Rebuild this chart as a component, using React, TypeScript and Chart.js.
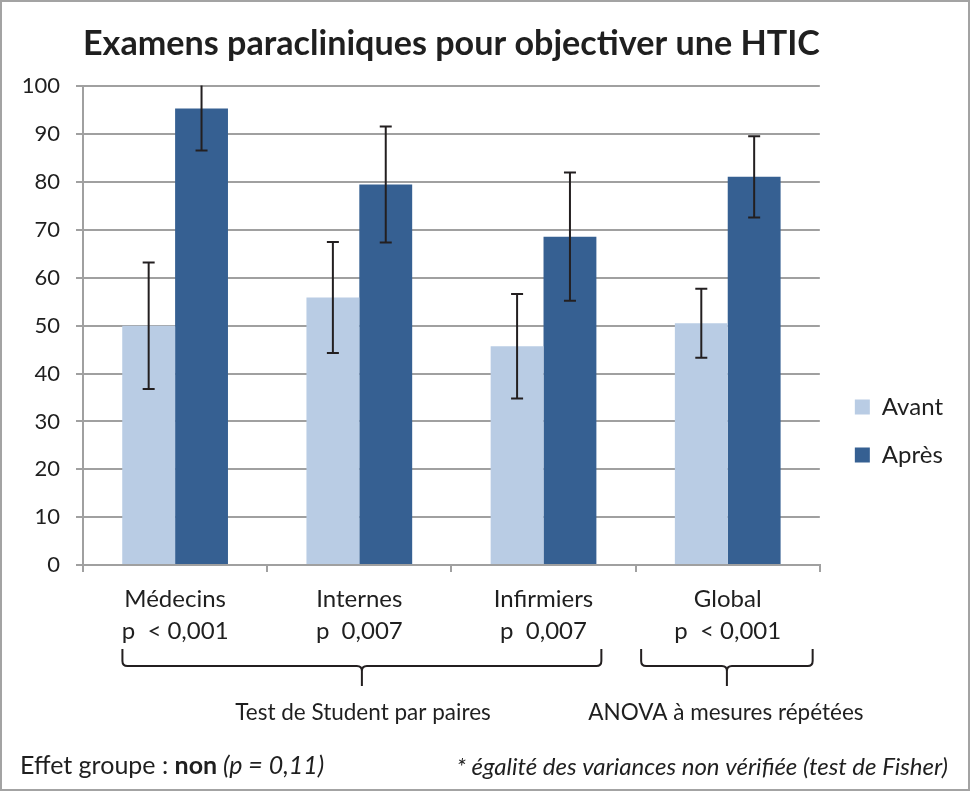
import React, { useEffect, useRef } from 'react';
import { Chart, registerables } from 'chart.js';

Chart.register(...registerables);

const FONT = 'Lato, "Open Sans", "DejaVu Sans", sans-serif';
const TEXT = '#1f1f1f';
const GRID = '#a0a0a0';

// ---- data ----
const title = 'Examens paracliniques pour objectiver une HTIC';
const categories = ['Médecins', 'Internes', 'Infirmiers', 'Global'];
const pValues = ['p  < 0,001', 'p  0,007', 'p  0,007', 'p  < 0,001'];
const seriesNames = ['Avant', 'Après'];
const avantValues = [50.0, 55.9, 45.7, 50.5];
const apresValues = [95.4, 79.5, 68.6, 81.1];
const avantErrors = [13.2, 11.6, 10.9, 7.2];
const apresErrors = [8.8, 12.1, 13.4, 8.5];
const yMin = 0;
const yMax = 100;
const yStep = 10;
const groupLabels = ['Test de Student par paires', 'ANOVA à mesures répétées'];
const groupStart = [-0.286, 2.53];
const groupEnd = [2.314, 3.461];
const groupLabelAt = [1.02, 2.99];
const footLeft = ['Effet groupe : ', 'non', ' (p = 0,11)'];
const footRight = '* égalité des variances non vérifiée (test de Fisher)';

const errorSets = [avantErrors, apresErrors];

const decorations = {
  id: 'decorations',
  beforeDraw(chart: any) {
    const { ctx, width, height } = chart;
    ctx.save();
    ctx.fillStyle = '#ffffff';
    ctx.fillRect(0, 0, width, height);
    ctx.restore();
  },
  afterLayout(chart: any) {
    const lg = chart.legend;
    if (lg) {
      lg.left += 11;
      lg.right += 11;
      lg.top += 71;
    }
  },
  afterDatasetsDraw(chart: any) {
    const { ctx, chartArea } = chart;
    const y = chart.scales.y;
    ctx.save();
    ctx.beginPath();
    ctx.rect(chartArea.left, chartArea.top - 1, chartArea.right - chartArea.left, chartArea.bottom - chartArea.top + 1);
    ctx.clip();
    ctx.strokeStyle = '#231f20';
    ctx.lineWidth = 2;
    chart.data.datasets.forEach((ds: any, i: number) => {
      const meta = chart.getDatasetMeta(i);
      meta.data.forEach((bar: any, j: number) => {
        const v = ds.data[j];
        const e = errorSets[i][j];
        const yHi = y.getPixelForValue(v + e);
        const yLo = y.getPixelForValue(v - e);
        const x = bar.x;
        ctx.beginPath();
        ctx.moveTo(x, yHi);
        ctx.lineTo(x, yLo);
        ctx.moveTo(x - 6, yHi);
        ctx.lineTo(x + 6, yHi);
        ctx.moveTo(x - 6, yLo);
        ctx.lineTo(x + 6, yLo);
        ctx.stroke();
      });
    });
    ctx.restore();
  },
  afterDraw(chart: any) {
    const { ctx, chartArea, width, height } = chart;
    const xs = chart.scales.x;
    const p0 = xs.getPixelForValue(0);
    const w = xs.getPixelForValue(1) - p0;
    const toPx = (idx: number) => p0 + idx * w;
    const base = chartArea.bottom;
    const yTop = base + 84;
    const yMid = base + 101;
    const yTip = base + 121;
    const r = 5;
    ctx.save();
    ctx.strokeStyle = '#231f20';
    ctx.lineWidth = 2;
    groupLabels.forEach((lbl, k) => {
      const x1 = toPx(groupStart[k]);
      const x2 = toPx(groupEnd[k]);
      const xc = (x1 + x2) / 2;
      ctx.beginPath();
      ctx.moveTo(x1, yTop);
      ctx.lineTo(x1, yMid - r);
      ctx.quadraticCurveTo(x1, yMid, x1 + r, yMid);
      ctx.lineTo(xc - r, yMid);
      ctx.quadraticCurveTo(xc, yMid, xc, yMid + r);
      ctx.lineTo(xc, yTip);
      ctx.moveTo(x2, yTop);
      ctx.lineTo(x2, yMid - r);
      ctx.quadraticCurveTo(x2, yMid, x2 - r, yMid);
      ctx.lineTo(xc + r, yMid);
      ctx.quadraticCurveTo(xc, yMid, xc, yMid + r);
      ctx.stroke();
      ctx.fillStyle = TEXT;
      ctx.font = `22.5px ${FONT}`;
      ctx.textAlign = 'center';
      ctx.textBaseline = 'middle';
      ctx.fillText(lbl, toPx(groupLabelAt[k]), base + 148);
    });

    // footnotes
    const fy = height - 25;
    ctx.fillStyle = TEXT;
    ctx.textBaseline = 'middle';
    ctx.textAlign = 'left';
    let fx = 20;
    const styles = [`25px ${FONT}`, `bold 25px ${FONT}`, `italic 25px ${FONT}`];
    footLeft.forEach((seg, k) => {
      ctx.font = styles[k];
      ctx.fillText(seg, fx, fy);
      fx += ctx.measureText(seg).width;
    });
    ctx.font = `italic 24px ${FONT}`;
    ctx.textAlign = 'right';
    ctx.fillText(footRight, width - 22, fy + 1);

    // frame
    ctx.strokeStyle = '#a3a3a3';
    ctx.lineWidth = 2;
    ctx.strokeRect(1, 1, width - 2, height - 2);
    ctx.restore();
  },
};

export default function App() {
  const ref = useRef<HTMLCanvasElement>(null);

  useEffect(() => {
    document.body.style.margin = '0';
    const canvas = ref.current;
    if (!canvas) return;
    const chart = new Chart(canvas, {
      type: 'bar',
      data: {
        labels: categories.map((c, i) => [c, pValues[i]]),
        datasets: [
          {
            label: seriesNames[0],
            data: avantValues,
            backgroundColor: '#b9cce4',
            categoryPercentage: 0.574,
            barPercentage: 1,
          },
          {
            label: seriesNames[1],
            data: apresValues,
            backgroundColor: '#366092',
            categoryPercentage: 0.574,
            barPercentage: 1,
          },
        ],
      },
      options: {
        responsive: false,
        animation: false,
        layout: { padding: { left: 0, right: 28, top: 0, bottom: 0 } },
        plugins: {
          title: {
            display: true,
            text: title,
            fullSize: false,
            color: TEXT,
            font: { family: FONT, size: 34.5, weight: 'bold' },
            padding: { top: 23, bottom: 22 },
          },
          legend: {
            position: 'right',
            maxWidth: 140,
            labels: {
              boxWidth: 15,
              boxHeight: 15,
              padding: 24,
              color: TEXT,
              font: { family: FONT, size: 24 },
            },
          },
          tooltip: { enabled: false },
        },
        scales: {
          x: {
            grid: { offset: true, drawOnChartArea: false, drawTicks: true, tickLength: 7, color: GRID, lineWidth: 2 },
            border: { color: GRID, width: 2 },
            ticks: {
              color: TEXT,
              font: { family: FONT, size: 24, lineHeight: 32 / 24 },
              padding: 11,
              maxRotation: 0,
              autoSkip: false,
            },
            afterFit: (s: any) => {
              s.height = 226;
            },
          },
          y: {
            min: yMin,
            max: yMax,
            grid: { color: GRID, lineWidth: 2, tickLength: 7, drawTicks: true },
            border: { color: GRID, width: 2 },
            ticks: {
              stepSize: yStep,
              color: TEXT,
              font: { family: FONT, size: 22 },
              padding: 16,
            },
            afterFit: (s: any) => {
              s.width = 83;
            },
          },
        },
      },
      plugins: [decorations],
    } as any);
    return () => chart.destroy();
  }, []);

  return (
    <div style={{ width: 970, height: 791, position: 'relative' }}>
      <canvas ref={ref} width={970} height={791} style={{ display: 'block' }} />
    </div>
  );
}
